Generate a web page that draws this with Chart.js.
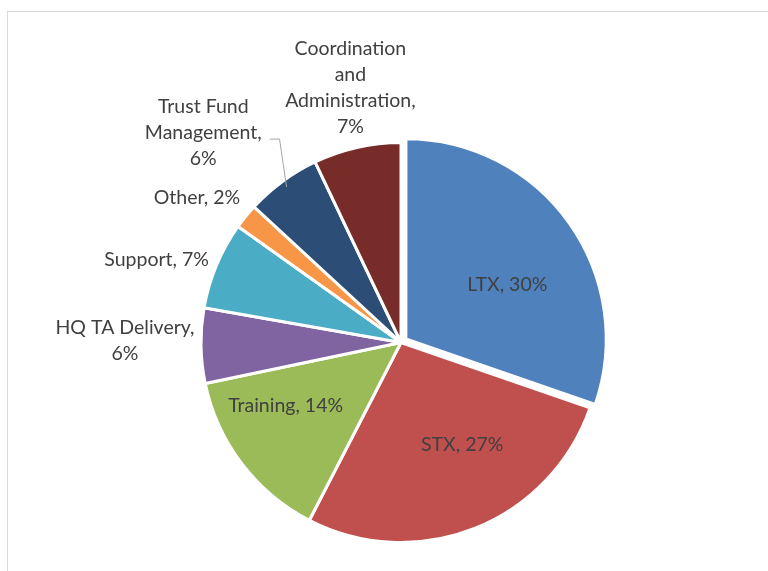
<!DOCTYPE html>
<html>
<head>
<meta charset="utf-8">
<script src="https://cdn.jsdelivr.net/npm/chart.js@4.4.1/dist/chart.umd.min.js"></script>
<style>
  html, body { margin: 0; padding: 0; background: #ffffff; }
  #wrap { position: relative; width: 768px; height: 571px; overflow: hidden; }
  #frame { position: absolute; left: 7px; top: 11px; width: 900px; height: 700px;
           border-left: 1px solid #d9d9d9; border-top: 1px solid #d9d9d9; }
  canvas { position: absolute; left: 0; top: 0; }
</style>
</head>
<body>
<div id="wrap">
  <div id="frame"></div>
  <canvas id="chart" width="768" height="571"></canvas>
</div>
<script>
// Budget shares by activity, clockwise from twelve o'clock
const categories = ['LTX', 'STX', 'Training', 'HQ TA Delivery', 'Support', 'Other',
                    'Trust Fund Management', 'Coordination and Administration'];
const shares = [30, 27, 14, 6, 7, 2, 6, 7];
const sliceColors = ['#4f81bd', '#c0504d', '#9bbb59', '#8064a2', '#4bacc6', '#f79646',
                     '#2c4d75', '#772c2a'];

// Draws "Name, NN%" labels, wrapped, with an optional leader line
const sliceLabels = {
  id: 'sliceLabels',
  afterDatasetsDraw(chart, args, opts) {
    const ctx = chart.ctx;
    const meta = chart.getDatasetMeta(0);
    const values = chart.data.datasets[0].data;
    ctx.save();
    ctx.font = opts.font;
    ctx.fillStyle = opts.color;
    ctx.textAlign = 'center';
    ctx.textBaseline = 'middle';
    meta.data.forEach((arc, i) => {
      const p = arc.getProps(['x', 'y', 'startAngle', 'endAngle', 'outerRadius'], true);
      const place = opts.placement[i];
      const mid = (p.startAngle + p.endAngle) / 2;
      const a = mid + place.nudge * Math.PI / 180;
      const cx = p.x + Math.cos(a) * p.outerRadius * place.r;
      const cy = p.y + Math.sin(a) * p.outerRadius * place.r;
      const text = chart.data.labels[i] + ', ' + values[i] + '%';
      // greedy word wrap
      const words = text.split(' ');
      const lines = [];
      let cur = '';
      words.forEach(w => {
        const t = cur ? cur + ' ' + w : w;
        if (cur && ctx.measureText(t).width > opts.wrapWidth) { lines.push(cur); cur = w; }
        else cur = t;
      });
      if (cur) lines.push(cur);
      const n = lines.length;
      let maxW = 0;
      lines.forEach((ln, k) => {
        maxW = Math.max(maxW, ctx.measureText(ln).width);
        ctx.fillText(ln, cx, cy + (k - (n - 1) / 2) * opts.lineHeight);
      });
      if (place.leader) {
        const ex = p.x + Math.cos(mid) * (p.outerRadius - 7);
        const ey = p.y + Math.sin(mid) * (p.outerRadius - 7);
        const ly = cy + 6;
        ctx.save();
        ctx.strokeStyle = opts.leaderColor;
        ctx.lineWidth = 1;
        ctx.beginPath();
        ctx.moveTo(cx + maxW / 2 + 8, ly);
        ctx.lineTo(ex - 7, ly);
        ctx.lineTo(ex, ey);
        ctx.stroke();
        ctx.restore();
      }
    });
    ctx.restore();
  }
};

new Chart(document.getElementById('chart'), {
  type: 'pie',
  data: {
    labels: categories,
    datasets: [{
      data: shares,
      backgroundColor: sliceColors,
      borderColor: '#ffffff',
      borderWidth: 3,
      offset: [24, 0, 0, 0, 0, 0, 0, 0],
      hoverOffset: 0,
      radius: 200
    }]
  },
  options: {
    responsive: false,
    animation: false,
    events: [],
    layout: { padding: { left: 34, right: 0, top: 114, bottom: 0 } },
    plugins: {
      legend: { display: false },
      tooltip: { enabled: false },
      sliceLabels: {
        font: '19.5px Lato',
        color: '#404040',
        lineHeight: 26,
        wrapWidth: 141,
        leaderColor: '#a6a6a6',
        placement: [
          { r: 0.604, nudge: 7.1 },
          { r: 0.597, nudge: -9.0 },
          { r: 0.658, nudge: 8.5 },
          { r: 1.38, nudge: 1.2 },
          { r: 1.29, nudge: -4.0 },
          { r: 1.25, nudge: -3.8 },
          { r: 1.44, nudge: -7.0, leader: true },
          { r: 1.30, nudge: 1.5 }
        ]
      }
    }
  },
  plugins: [sliceLabels]
});
</script>
</body>
</html>
